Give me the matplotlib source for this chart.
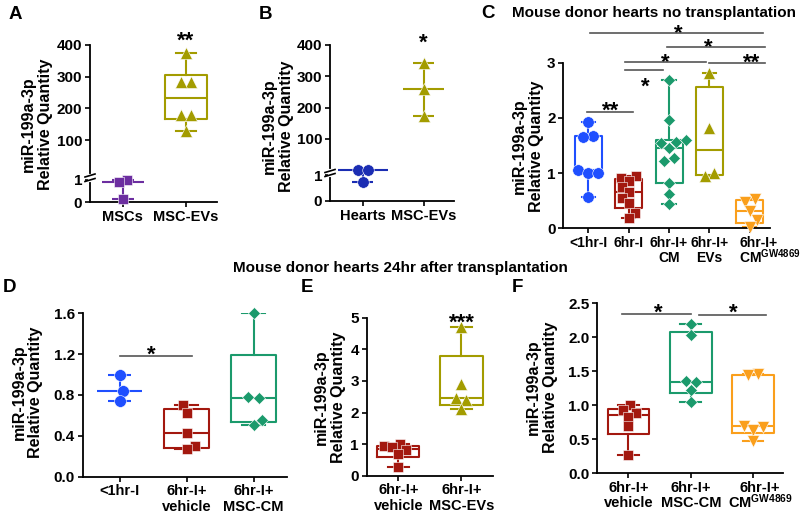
import numpy as np
import matplotlib
matplotlib.use('Agg')
import matplotlib.pyplot as plt
import matplotlib.transforms as mtransforms
from matplotlib.lines import Line2D

plt.rcParams['font.family'] = ['Liberation Sans', 'DejaVu Sans']
plt.rcParams['font.weight'] = 'bold'
plt.rcParams['mathtext.fontset'] = 'custom'
plt.rcParams['mathtext.rm'] = 'Liberation Sans:bold'
plt.rcParams['mathtext.it'] = 'Liberation Sans:bold'
plt.rcParams['mathtext.bf'] = 'Liberation Sans:bold'

# ---------------- data ----------------
a_labels = ['MSCs', 'MSC-EVs']
a_mscs = [1.0, 0.9, 0.15]
a_evs = [374, 284, 284, 179, 179, 128]

b_labels = ['Hearts', 'MSC-EVs']
b_hearts = [1.02, 0.72, 1.02]
b_evs = [343, 258, 172]

c_title = 'Mouse donor hearts no transplantation'
c_labels = ['<1hr-I', '6hr-I', '6hr-I+\nCM', '6hr-I+\nEVs', '6hr-I+\nCM$^{GW4869}$']
c_lt1 = [1.92, 1.67, 1.65, 1.05, 1.0, 1.0, 0.56]
c_6hr = [0.95, 0.92, 0.85, 0.75, 0.65, 0.55, 0.45, 0.28, 0.18]
c_cm = [2.69, 1.96, 1.6, 1.57, 1.55, 1.45, 1.27, 1.22, 0.82, 0.62, 0.44]
c_evs = [2.81, 1.82, 1.0, 0.95]
c_gw = [0.53, 0.48, 0.32, 0.15, 0.03]
# comparisons: (from, to, bar level, star x, star y, text)
c_sig = [(-0.04, 1.11, 2.11, 0.54, 2.28, '**'),
         (0.9, 1.85, 2.86, 1.40, 2.70, '*'),
         (0.9, 2.92, 3.02, 1.90, 3.14, '*'),
         (3.0, 4.37, 3.00, 4.04, 3.14, '**'),
         (1.94, 4.37, 3.29, 2.97, 3.41, '*'),
         (0.04, 4.32, 3.53, 2.23, 3.66, '*')]

bottom_title = 'Mouse donor hearts 24hr after transplantation'
d_labels = ['<1hr-I', '6hr-I+\nvehicle', '6hr-I+\nMSC-CM']
d_lt1 = [1.0, 0.84, 0.745]
d_vehicle = [0.70, 0.62, 0.43, 0.30, 0.27]
d_cm = [1.6, 0.78, 0.77, 0.56, 0.51]
d_sig = [(0.01, 1.08, 1.18, 0.48, 1.27, '*')]

e_labels = ['6hr-I+\nvehicle', '6hr-I+\nMSC-EVs']
e_vehicle = [1.0, 0.93, 0.9, 0.8, 0.7, 0.28]
e_evs = [4.7, 2.9, 2.45, 2.4, 2.1]

f_labels = ['6hr-I+\nvehicle', '6hr-I+\nMSC-CM', '6hr-I+\nCM$^{GW4869}$']
f_vehicle = [1.0, 0.93, 0.88, 0.83, 0.69, 0.27]
f_cm = [2.2, 2.03, 1.36, 1.34, 1.22, 1.05]
f_gw = [1.46, 1.44, 0.7, 0.68, 0.64, 0.47]
f_sig = [(-0.1, 1.0, 2.35, 0.48, 2.47, '*'),
         (1.13, 2.21, 2.33, 1.68, 2.47, '*')]

ylabel_text = 'miR-199a-3p\nRelative Quantity'

# ---------------- style ----------------
PURPLE = '#6c2ea0'
OLIVE = '#a39c00'
NAVY = '#1b2db3'
BLUE = '#1f4fff'
DRED = '#a3180f'
GREEN = '#1b9a6c'
ORANGE = '#fa9f1c'
TICK_LS = 1.1
MATH_LS = 0.85

W, H = 800, 513
fig = plt.figure(figsize=(W / 100, H / 100), dpi=100)
fig.patch.set_facecolor('white')

def fx(x):
    return x / W

def fy(y):
    return 1 - y / H


def broken_scale(b, g, s):
    def fwd(v):
        v = np.asarray(v, float)
        return np.where(v <= 1, v * b, b + g + (v - 1) * s)

    def inv(u):
        u = np.asarray(u, float)
        return np.where(u <= b, u / b, 1 + np.maximum(u - b - g, 0) / s)
    return fwd, inv


def panel(rect, xlim, ylim, yticks, yticklabels, xlabels, xfs=10.5, yscale=None):
    l, t, r, b = rect
    ax = fig.add_axes([fx(l), fy(b), (r - l) / W, (b - t) / H])
    if yscale is not None:
        ax.set_yscale('function', functions=yscale)
    ax.set_xlim(*xlim)
    ax.set_ylim(*ylim)
    for s in ['top', 'right']:
        ax.spines[s].set_visible(False)
    for s in ['left', 'bottom']:
        ax.spines[s].set_linewidth(1.3)
    ax.set_yticks(yticks)
    ax.set_yticklabels(yticklabels, fontsize=11)
    ax.set_xticks(range(len(xlabels)))
    ax.set_xticklabels(xlabels, fontsize=xfs, linespacing=TICK_LS)
    ax.minorticks_off()
    ax.tick_params(direction='out', length=3.6, width=1.2, pad=2)
    ax.patch.set_alpha(0)
    return ax


def shifted_label(ax, xpos, text, dx_pt, ha, fs):
    """x tick label drawn with a small horizontal offset (as in the source)."""
    tr = mtransforms.offset_copy(mtransforms.blended_transform_factory(ax.transData, ax.transAxes),
                                 fig=fig, x=dx_pt, y=-5.6, units='points')
    ax.text(xpos, 0, text, transform=tr, ha=ha, va='top', fontsize=fs,
            fontweight='bold', linespacing=MATH_LS, multialignment=ha)


def swarm_x(ax, x0, vals, d):
    vals = np.asarray(vals, float)
    n = len(vals)
    disp = ax.transData.transform(np.column_stack([np.full(n, x0), vals]))
    ys = disp[:, 1]
    order = np.argsort(ys, kind='stable')
    xs = np.zeros(n)
    placed = []
    side = 1
    for i in order:
        cands = [0.0]
        for j in placed:
            dy = ys[i] - ys[j]
            if abs(dy) < d:
                dx = np.sqrt(d * d - dy * dy)
                cands += [xs[j] + dx, xs[j] - dx]

        def ok(x):
            return all((x - xs[j]) ** 2 + (ys[i] - ys[j]) ** 2 >= d * d - 1e-6 for j in placed)
        valid = [c for c in cands if ok(c)]
        best = min(valid, key=lambda c: (round(abs(c), 4), -side * np.sign(c)))
        if best != 0:
            side = -side
        xs[i] = best
        placed.append(i)
    used = set()
    for i in order:
        if i in used:
            continue
        row = [j for j in range(n) if abs(ys[j] - ys[i]) < 0.3 * d and j not in used]
        used.update(row)
        if len(row) > 1:
            newx = xs.copy()
            newx[row] -= np.mean(xs[row])
            others = [k for k in range(n) if k not in row]
            if all((newx[r] - newx[k]) ** 2 + (ys[r] - ys[k]) ** 2 >= 0.8 * d * d
                   for r in row for k in others):
                xs = newx
    ppu = ax.transData.transform((1, 0))[0] - ax.transData.transform((0, 0))[0]
    return x0 + xs / ppu


def points(ax, x0, vals, color, marker, ms):
    d = ms * 100 / 72 * (1.35 if marker == 'D' else 1.0) * 0.88
    xs = swarm_x(ax, x0, vals, d)
    ax.plot(xs, vals, ls='none', marker=marker, ms=ms, color=color,
            mec='white', mew=0.4, clip_on=False, zorder=4)


def box(ax, x0, vals, color, marker, ms):
    q1, med, q3 = np.percentile(vals, [25, 50, 75], method='weibull')
    st = dict(med=med, q1=q1, q3=q3, whislo=min(vals), whishi=max(vals), fliers=[])
    lp = dict(color=color, lw=1.5)
    ax.bxp([st], positions=[x0], widths=0.67, showfliers=False, capwidths=0.33,
           boxprops=lp, whiskerprops=lp, capprops=lp, medianprops=lp,
           manage_ticks=False)
    points(ax, x0, vals, color, marker, ms)


def med_range(ax, x0, vals, color, marker, ms, w=0.67, cw=0.35):
    med = np.median(vals)
    lo, hi = min(vals), max(vals)
    ax.vlines(x0, lo, hi, color=color, lw=1.5, zorder=3)
    ax.hlines([lo, hi], x0 - cw / 2, x0 + cw / 2, color=color, lw=1.5, zorder=3)
    ax.hlines(med, x0 - w / 2, x0 + w / 2, color=color, lw=1.5, zorder=3)
    points(ax, x0, vals, color, marker, ms)


def stars(ax, x, y, txt, fs=16):
    tr = mtransforms.offset_copy(ax.transData, fig=fig, y=-0.62 * fs, units='points')
    ax.text(x, y, txt, transform=tr, ha='center', va='baseline', fontsize=fs,
            fontweight='bold', clip_on=False)


def sig(ax, items):
    for x1, x2, yb, sx, sy, txt in items:
        ax.plot([x1, x2], [yb, yb], color='#555555', lw=1.2, clip_on=False, zorder=5)
        stars(ax, sx, sy, txt)


def ylab(xc, yc, fs=11.5):
    fig.text(fx(xc), fy(yc), ylabel_text, rotation=90, ha='center', va='center',
             fontsize=fs, linespacing=1.15, fontweight='bold')


def letter(x, y, s):
    fig.text(fx(x), fy(y), s, ha='center', va='center', fontsize=13.5, fontweight='bold')


def axis_break(xs, y_lo, y_hi):
    fig.add_artist(Line2D([fx(xs), fx(xs)], [fy(y_lo), fy(y_hi)], transform=fig.transFigure,
                          color='white', lw=3, zorder=10))
    for yy in (y_lo, y_hi):
        fig.add_artist(Line2D([fx(xs - 5), fx(xs + 5)], [fy(yy + 1.5), fy(yy - 1.5)],
                              transform=fig.transFigure, color='black', lw=1.2, zorder=11))


# ---------------- Panel A ----------------
axA = panel((90, 45, 217, 202), (-0.52, 1.49), (0, 400), [0, 1, 100, 200, 300, 400],
            ['0', '1', '100', '200', '300', '400'], a_labels, 10.5,
            yscale=broken_scale(22, 8.6, 0.3167))
med_range(axA, 0, a_mscs, PURPLE, 's', 7.2)
box(axA, 1, a_evs, OLIVE, '^', 8.2)
stars(axA, 1, 438, '**')
axis_break(90, 180, 175.5)
ylab(37, 124)
letter(15, 15, 'A')

# ---------------- Panel B ----------------
axB = panel((330, 45, 454, 201), (-0.54, 1.5), (0, 400), [0, 1, 100, 200, 300, 400],
            ['0', '1', '100', '200', '300', '400'], b_labels, 10.5,
            yscale=broken_scale(26, 5.0, 0.3133))
med_range(axB, 0, b_hearts, NAVY, 'o', 8.3, w=0.83)
med_range(axB, 1, b_evs, OLIVE, '^', 8.2)
stars(axB, 1, 432, '*')
axis_break(330, 175, 171)
ylab(278, 126)
letter(265, 15, 'B')

# ---------------- Panel C ----------------
axC = panel((563.3, 62.7, 770, 228.3), (-0.62, 4.5), (0, 3), [0, 1, 2, 3],
            ['0', '1', '2', '3'], list(c_labels[:-1]) + [''], 10)
shifted_label(axC, 4, c_labels[-1], -7.5, 'left', 10)
box(axC, 0, c_lt1, BLUE, 'o', 8.3)
box(axC, 1, c_6hr, DRED, 's', 7.1)
box(axC, 2, c_cm, GREEN, 'D', 6.0)
box(axC, 3, c_evs, OLIVE, '^', 8.2)
box(axC, 4, c_gw, ORANGE, 'v', 8.2)
sig(axC, c_sig)
ylab(528, 146)
letter(488, 13, 'C')
fig.text(fx(654), fy(13), c_title, ha='center', va='center', fontsize=11, fontweight='bold')

# ---------------- Panel D ----------------
axD = panel((82.7, 313.3, 287, 476.7), (-0.55, 2.5), (0, 1.6), [0, 0.4, 0.8, 1.2, 1.6],
            ['0.0', '0.4', '0.8', '1.2', '1.6'], d_labels, 10.5)
med_range(axD, 0, d_lt1, BLUE, 'o', 8.5)
box(axD, 1, d_vehicle, DRED, 's', 7.3)
box(axD, 2, d_cm, GREEN, 'D', 6.2)
sig(axD, d_sig)
ylab(27.5, 392)
letter(10, 288, 'D')
fig.text(fx(400), fy(268), bottom_title, ha='center', va='center', fontsize=11, fontweight='bold')

# ---------------- Panel E ----------------
axE = panel((366.7, 317.7, 493, 475.7), (-0.5, 1.5), (0, 5), [0, 1, 2, 3, 4, 5],
            ['0', '1', '2', '3', '4', '5'], e_labels, 10.5)
box(axE, 0, e_vehicle, DRED, 's', 7.1)
box(axE, 1, e_evs, OLIVE, '^', 8.2)
stars(axE, 1, 5.08, '***')
ylab(330, 397)
letter(307, 288, 'E')

# ---------------- Panel F ----------------
axF = panel((597.3, 303.3, 783, 473.3), (-0.5, 2.48), (0, 2.5), [0, 0.5, 1.0, 1.5, 2.0, 2.5],
            ['0.0', '0.5', '1.0', '1.5', '2.0', '2.5'], list(f_labels[:-1]) + [''], 10.5)
shifted_label(axF, 2, f_labels[-1], 5, 'center', 10.5)
box(axF, 0, f_vehicle, DRED, 's', 7.1)
box(axF, 1, f_cm, GREEN, 'D', 6.1)
box(axF, 2, f_gw, ORANGE, 'v', 8.2)
sig(axF, f_sig)
ylab(542, 387)
letter(517, 288, 'F')

fig.savefig('out.png', dpi=100, facecolor='white')
